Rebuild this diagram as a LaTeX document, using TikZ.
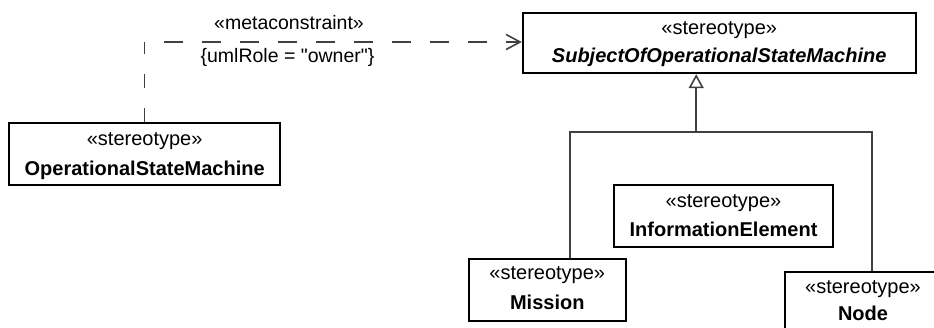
\documentclass[tikz,border=0pt]{standalone}
\usepackage{fontspec}
\setmainfont{Liberation Sans}[Ligatures=TeXOff]
\usetikzlibrary{arrows.meta,calc}
\definecolor{conncol}{HTML}{404040}
\begin{document}
\begin{tikzpicture}[x=1pt,y=-1pt,
  every node/.style={font=\fontsize{20}{24}\selectfont},
  umlbox/.style={draw=black,line width=1.8pt,fill=white,inner sep=0pt},
  stereo/.style={anchor=base,inner sep=0pt},
  uname/.style={anchor=base,inner sep=0pt,font=\fontsize{20}{24}\selectfont\bfseries},
  lbl/.style={anchor=base,inner sep=0pt,font=\fontsize{19.5}{23}\selectfont},
  conn/.style={draw=conncol,line width=1.6pt},
  depv/.style={conn,dash pattern=on 14pt off 20pt},
  deph/.style={conn,dash pattern=on 19pt off 19pt,dash phase=19pt,-{Straight Barb[length=14pt,width=15pt,line width=1.6pt]}},
  gen/.style={conn,-{Triangle[open,length=14pt,width=15pt,fill=white,line width=1.6pt]}}]
\useasboundingbox (0,0) rectangle (934,328);
\clip (0,0) rectangle (934,328);

% boxes
\node[umlbox,minimum width=270.7pt,minimum height=61.7pt] (osm) at (144.65,154.15) {};
\node[umlbox,minimum width=393pt,minimum height=60.6pt] (subj) at (719.2,43) {};
\node[umlbox,minimum width=218.4pt,minimum height=61.7pt] (ie) at (723.5,215.8) {};
\node[umlbox,minimum width=156.7pt,minimum height=62pt] (mission) at (547.3,289.7) {};
\node[umlbox,minimum width=156pt,minimum height=62pt] (nodebox) at (863,302.7) {};

% texts
\node[stereo] (osm-s) at ($(osm.north)+(0,23)$) {«stereotype»};
\node[uname] (osm-n) at ($(osm.north)+(0,53)$) {OperationalStateMachine};
\node[stereo] (subj-s) at ($(subj.north)+(0,22.5)$) {«stereotype»};
\node[uname,font=\fontsize{20}{24}\selectfont\bfseries\itshape] (subj-n) at ($(subj.north)+(0,51)$) {SubjectOfOperationalStateMachine};
\node[stereo] (ie-s) at ($(ie.north)+(0,23)$) {«stereotype»};
\node[uname] (ie-n) at ($(ie.north)+(0,52)$) {InformationElement};
\node[stereo] (mission-s) at ($(mission.north)+(0,22)$) {«stereotype»};
\node[uname] (mission-n) at ($(mission.north)+(0,52)$) {Mission};
\node[stereo] (node-s) at ($(nodebox.north)+(0,23)$) {«stereotype»};
\node[uname] (node-n) at ($(nodebox.north)+(0,50)$) {Node};

% dependency
\coordinate (corner) at ($(osm.north |- subj.west)+(0,-1)$);
\draw[depv] (osm.north) -- (corner);
\draw[deph] (corner) -- (corner -| subj.west);
\node[lbl] (meta) at (289,30) {«metaconstraint»};
\node[lbl] (role) at (287.5,63) {\{umlRole = "owner"\}};

% generalization
\coordinate (gtop) at ($(subj.south)+(-23,0)$);
\coordinate (gj) at ($(gtop)+(0,58)$);
\coordinate (mtop) at ($(mission.north)+(22.7,0)$);
\coordinate (ntop) at ($(nodebox.north)+(9,0)$);
\draw[gen] (gj) -- (gtop);
\draw[conn] (mtop) |- (gj) -| (ntop);
\end{tikzpicture}
\end{document}
